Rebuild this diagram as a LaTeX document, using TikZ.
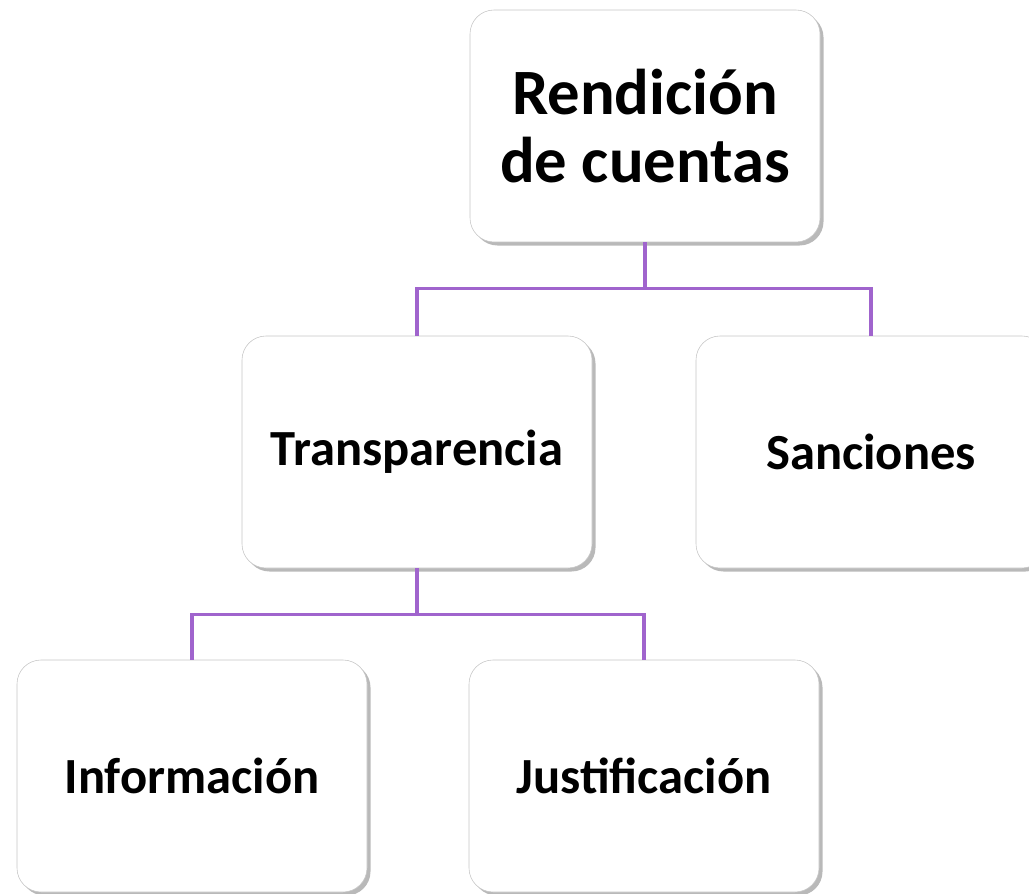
\documentclass[tikz,border=0pt]{standalone}
\usepackage{fontspec}
\setmainfont{Carlito}
\usetikzlibrary{positioning,shadows}

\definecolor{linkpurple}{RGB}{160,100,205}

\begin{document}
\begin{tikzpicture}[node distance=2cm,on grid,
	box/.style={draw=gray!45, fill=white, rounded corners=0.6cm,
		minimum width=8.75cm, minimum height=5.8cm, align=center,
		font=\fontsize{36}{42}\selectfont\bfseries,
		drop shadow={opacity=0.55, shadow xshift=2.5pt, shadow yshift=-2.5pt}},
	stem/.style={draw=linkpurple, line width=3pt},
	branch/.style={draw=linkpurple, line width=2.3pt}]
			\useasboundingbox (0,0) rectangle (25.725,-22.35);
			\node[box, font=\fontsize{46}{48}\selectfont\bfseries] (rc) at (16.125,-3.15) {Rendición\\de cuentas};
			\node[box] (tr) [below left=8.15cm and 5.7cm of rc] {Transparencia};
			\node[box] (sa) [right=11.35cm of tr] {Sanciones};
			\node[box] (inf) [below left=8.1cm and 5.625cm of tr] {Información};
			\node[box] (ju) [right=11.3cm of inf] {Justificación};
			% first level
			\draw[stem] (rc.south) -- ++(0,-1.15) coordinate (b1);
			\draw[branch] (tr.north) |- (b1) -| (sa.north);
			% second level
			\draw[stem] (tr.south) -- ++(0,-1.15) coordinate (b2);
			\draw[branch] (inf.north) |- (b2) -| (ju.north);
		\end{tikzpicture}
\end{document}
